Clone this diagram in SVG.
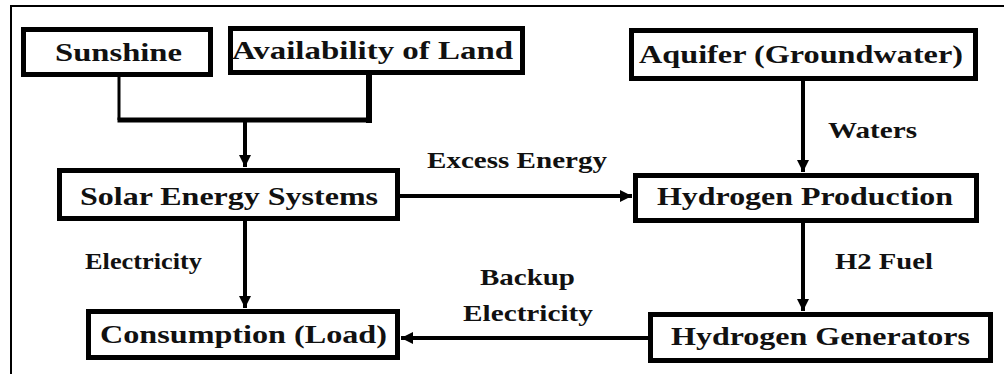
<svg xmlns="http://www.w3.org/2000/svg" width="1004" height="374" viewBox="0 0 1004 374">
<style>
.box{fill:#fff;stroke:#000;stroke-width:5}
.t{font-family:"Liberation Serif","Times New Roman",serif;font-weight:bold;fill:#111;font-size:26px}
.lbl{font-family:"Liberation Serif","Times New Roman",serif;font-weight:bold;fill:#111;font-size:23px}
.c{fill:none;stroke:#000;stroke-width:4}
</style>
<defs>
<marker id="ah" markerUnits="userSpaceOnUse" markerWidth="14" markerHeight="12" refX="12" refY="6" orient="auto">
<path d="M0,0 L12,6 L0,12 z" fill="#000"/>
</marker>
</defs>
<rect width="1004" height="374" fill="#fff"/>
<g id="frame">
<path d="M11,374 V6 H1004" fill="none" stroke="#000" stroke-width="2"/>
</g>
<g id="connectors">
<path d="M119,77 V120" fill="none" stroke="#000" stroke-width="3"/>
<path d="M117.5,120 H372" fill="none" stroke="#000" stroke-width="5"/>
<path d="M369,75 V123" fill="none" stroke="#000" stroke-width="6"/>
<path class="c" d="M245,120 V167" marker-end="url(#ah)"/>
<path class="c" d="M245,221 V308" marker-end="url(#ah)"/>
<path class="c" d="M400,196 H632" marker-end="url(#ah)"/>
<path class="c" d="M803,81 V172" marker-end="url(#ah)"/>
<path class="c" d="M803,223 V311" marker-end="url(#ah)"/>
<path class="c" d="M648,338 H401" marker-end="url(#ah)"/>
</g>
<g id="sunshine">
<rect class="box" x="23.5" y="29.5" width="187" height="45"/>
<text class="t" x="55" y="61" textLength="127" lengthAdjust="spacingAndGlyphs">Sunshine</text>
</g>
<g id="land">
<rect class="box" x="230.5" y="28.5" width="292" height="44"/>
<text class="t" x="232" y="59" textLength="281" lengthAdjust="spacingAndGlyphs">Availability of Land</text>
</g>
<g id="aquifer">
<rect class="box" x="631.5" y="30.5" width="344" height="48"/>
<text class="t" x="639" y="63" textLength="324" lengthAdjust="spacingAndGlyphs">Aquifer (Groundwater)</text>
</g>
<g id="solar">
<rect class="box" x="59.5" y="170.5" width="338" height="48"/>
<text class="t" x="80" y="205" textLength="298" lengthAdjust="spacingAndGlyphs">Solar Energy Systems</text>
</g>
<g id="hprod">
<rect class="box" x="635.5" y="175.5" width="341" height="45"/>
<text class="t" x="657" y="205" textLength="296" lengthAdjust="spacingAndGlyphs">Hydrogen Production</text>
</g>
<g id="consumption">
<rect class="box" x="88.5" y="311.5" width="309" height="46"/>
<text class="t" x="100" y="343" textLength="287" lengthAdjust="spacingAndGlyphs">Consumption (Load)</text>
</g>
<g id="hgen">
<rect class="box" x="650.5" y="314.5" width="340" height="46"/>
<text class="t" x="671" y="345" textLength="299" lengthAdjust="spacingAndGlyphs">Hydrogen Generators</text>
</g>
<g id="labels">
<text class="lbl" x="828" y="138" textLength="89" lengthAdjust="spacingAndGlyphs">Waters</text>
<text class="lbl" x="427" y="168" textLength="180" lengthAdjust="spacingAndGlyphs">Excess Energy</text>
<text class="lbl" x="85" y="269" textLength="117" lengthAdjust="spacingAndGlyphs">Electricity</text>
<text class="lbl" x="835" y="269" textLength="98" lengthAdjust="spacingAndGlyphs">H2 Fuel</text>
<text class="lbl" x="480" y="285" textLength="95" lengthAdjust="spacingAndGlyphs">Backup</text>
<text class="lbl" x="463" y="321" textLength="130" lengthAdjust="spacingAndGlyphs">Electricity</text>
</g>
</svg>
